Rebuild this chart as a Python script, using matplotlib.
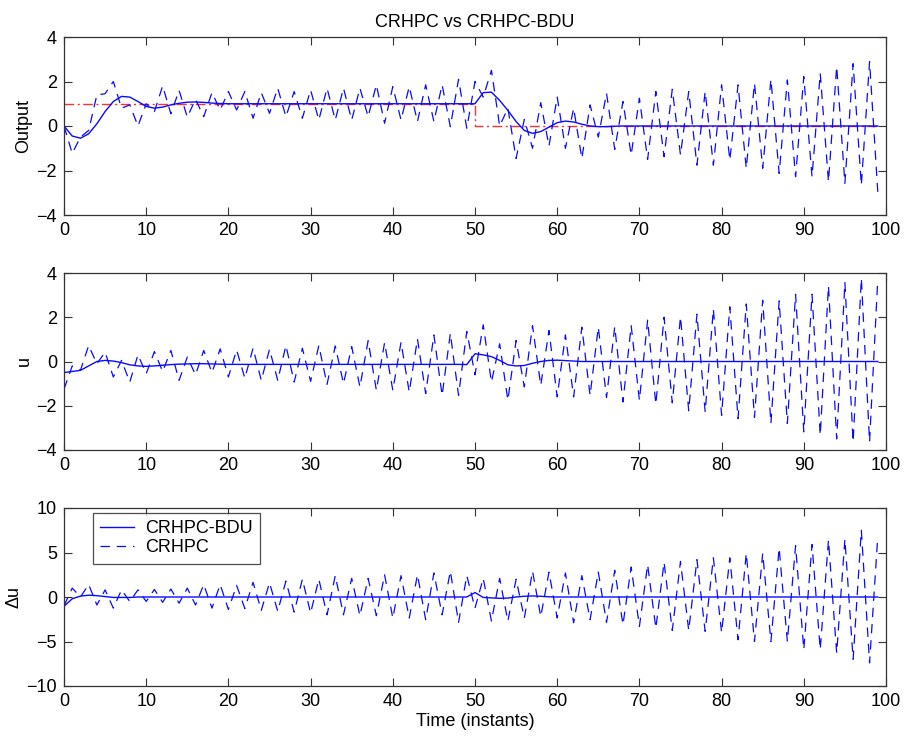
import matplotlib
matplotlib.use("Agg")
import matplotlib.pyplot as plt

plt.rcParams['font.family'] = ['Liberation Sans', 'DejaVu Sans']

instants = list(range(100))

# Reference (set point)
ref_output = [1.0] * 50 + [0.0] * 50

# CRHPC-BDU output (solid)
bdu_output = [0.0, -0.45, -0.55, -0.35, 0.1, 0.65, 1.1, 1.33, 1.3, 1.1,
              0.88, 0.8, 0.85, 0.95, 1.02, 1.07, 1.08, 1.06, 1.03, 1.01,
              1.0, 1.0, 1.0, 1.0, 1.0, 1.0, 1.0, 1.0, 1.0, 1.0,
              1.0, 1.0, 1.0, 1.0, 1.0, 1.0, 1.0, 1.0, 1.0, 1.0,
              1.0, 1.0, 1.0, 1.0, 1.0, 1.0, 1.0, 1.0, 1.0, 1.0,
              1.0, 1.5, 1.52, 1.15, 0.7, 0.2, -0.2, -0.33, -0.25, -0.05,
              0.15, 0.22, 0.18, 0.08, 0.0, -0.03, -0.03, -0.01, 0.0, 0.0,
              0.0, 0.0, 0.0, 0.0, 0.0, 0.0, 0.0, 0.0, 0.0, 0.0,
              0.0, 0.0, 0.0, 0.0, 0.0, 0.0, 0.0, 0.0, 0.0, 0.0,
              0.0, 0.0, 0.0, 0.0, 0.0, 0.0, 0.0, 0.0, 0.0, 0.0]

# CRHPC output (dashed)
crhpc_output = [0.0, -1.23, -0.5, -0.2, 1.4, 1.45, 2.0, 0.8, 0.95, 0.0,
                1.0, 0.65, 1.8, 0.55, 1.6, 0.4, 1.2, 0.42, 1.5, 0.72,
                1.55, 0.72, 1.55, 0.35, 1.5, 0.57, 1.7, 0.42, 1.55, 0.35,
                1.62, 0.27, 1.7, 0.27, 1.7, 0.27, 1.7, 0.42, 1.85, 0.12,
                1.77, 0.27, 1.77, 0.2, 1.85, 0.2, 1.85, -0.03, 2.1, -0.1,
                2.0, 1.3, 2.5, 0.0, 0.8, -1.46, 0.3, -1.0, 1.05, -0.9,
                1.3, -1.0, 0.8, -1.46, 0.95, -0.5, 1.47, -1.05, 1.1, -1.3,
                1.25, -1.5, 1.55, -1.38, 1.65, -1.3, 1.55, -1.76, 1.55, -1.76,
                1.85, -1.53, 1.85, -1.9, 1.92, -1.9, 2.1, -2.13, 2.07, -2.28,
                2.22, -2.28, 2.37, -2.5, 2.68, -2.58, 2.8, -2.66, 2.9, -2.96]

# CRHPC-BDU control u (solid)
bdu_u = [-0.5, -0.45, -0.4, -0.2, 0.0, 0.05, 0.02, -0.05, -0.15, -0.2,
         -0.22, -0.2, -0.17, -0.14, -0.12, -0.11, -0.1, -0.1, -0.11, -0.12,
         -0.13, -0.13, -0.13, -0.13, -0.13, -0.13, -0.13, -0.13, -0.13, -0.13,
         -0.13, -0.13, -0.13, -0.13, -0.13, -0.13, -0.13, -0.13, -0.13, -0.13,
         -0.13, -0.13, -0.13, -0.13, -0.13, -0.13, -0.13, -0.13, -0.13, -0.14,
         0.35, 0.3, 0.22, 0.05, -0.15, -0.2, -0.18, -0.08, 0.0, 0.05,
         0.06, 0.04, 0.02, 0.0, 0.0, 0.0, 0.0, 0.0, 0.0, 0.0,
         0.0, 0.0, 0.0, 0.0, 0.0, 0.0, 0.0, 0.0, 0.0, 0.0,
         0.0, 0.0, 0.0, 0.0, 0.0, 0.0, 0.0, 0.0, 0.0, 0.0,
         0.0, 0.0, 0.0, 0.0, 0.0, 0.0, 0.0, 0.0, 0.0, 0.0]

# CRHPC control u (dashed)
crhpc_u = [-1.25, -0.2, -0.4, 0.72, -0.1, 0.42, -0.7, 0.05, -0.93, 0.3,
           -0.55, 0.45, -0.45, 0.5, -0.85, 0.2, -0.6, 0.5, -0.5, 0.57,
           -0.7, 0.52, -0.75, 0.6, -0.85, 0.55, -0.85, 0.72, -0.93, 0.6,
           -0.9, 0.72, -1.03, 0.7, -1.0, 0.67, -1.15, 0.94, -1.3, 0.85,
           -1.3, 0.87, -1.38, 1.02, -1.45, 1.2, -1.53, 1.27, -1.53, 1.36,
           -0.6, 1.66, -0.93, 0.8, -1.75, 0.95, -1.15, 1.62, -1.08, 1.4,
           -1.6, 1.2, -1.6, 1.55, -1.53, 1.55, -1.63, 1.57, -1.83, 1.62,
           -1.75, 1.87, -1.93, 2.0, -1.87, 2.02, -2.23, 2.14, -2.28, 2.37,
           -2.43, 2.47, -2.58, 2.6, -2.53, 2.77, -2.8, 2.74, -2.8, 3.04,
           -3.18, 3.04, -3.33, 3.42, -3.5, 3.57, -3.63, 3.76, -3.63, 3.72]

# CRHPC-BDU control increment (solid)
bdu_du = [-1.05, -0.2, 0.1, 0.2, 0.15, 0.05, -0.05, -0.05, -0.05, 0.0,
          0.0, 0.0, 0.0, 0.0, 0.0, 0.0, 0.0, 0.0, 0.0, 0.0,
          0.0, 0.0, 0.0, 0.0, 0.0, 0.0, 0.0, 0.0, 0.0, 0.0,
          0.0, 0.0, 0.0, 0.0, 0.0, 0.0, 0.0, 0.0, 0.0, 0.0,
          0.0, 0.0, 0.0, 0.0, 0.0, 0.0, 0.0, 0.0, 0.0, 0.0,
          0.5, -0.05, -0.1, -0.15, -0.12, 0.0, 0.08, 0.12, 0.08, 0.02,
          0.0, 0.0, 0.0, 0.0, 0.0, 0.0, 0.0, 0.0, 0.0, 0.0,
          0.0, 0.0, 0.0, 0.0, 0.0, 0.0, 0.0, 0.0, 0.0, 0.0,
          0.0, 0.0, 0.0, 0.0, 0.0, 0.0, 0.0, 0.0, 0.0, 0.0,
          0.0, 0.0, 0.0, 0.0, 0.0, 0.0, 0.0, 0.0, 0.0, 0.0]

# CRHPC control increment (dashed)
crhpc_du = [-1.0, 1.0, 0.0, 1.4, -0.9, 0.8, -1.25, 0.8, -0.5, 0.8,
            -0.5, 0.85, -0.6, 0.9, -0.7, 1.0, -0.9, 1.4, -1.25, 1.4,
            -1.4, 1.3, -1.3, 1.65, -1.5, 1.6, -1.6, 1.8, -1.7, 2.0,
            -1.8, 2.0, -2.0, 2.4, -2.0, 2.1, -2.1, 2.1, -2.1, 2.5,
            -2.36, 2.4, -2.36, 2.5, -2.55, 2.7, -2.0, 2.9, -2.85, 2.4,
            -1.25, 2.1, -2.7, 2.1, -2.7, 2.0, -2.36, 2.9, -2.2, 2.8,
            -2.36, 2.7, -2.9, 2.4, -2.55, 2.8, -2.85, 3.0, -3.1, 3.37,
            -3.3, 3.63, -3.5, 3.9, -3.75, 4.0, -3.75, 4.2, -3.86, 4.4,
            -4.0, 4.4, -4.8, 4.9, -5.0, 4.9, -5.0, 5.5, -5.0, 5.77,
            -5.9, 5.9, -5.9, 6.4, -6.3, 6.5, -7.0, 7.5, -7.4, 6.8]

xticks = [0, 10, 20, 30, 40, 50, 60, 70, 80, 90, 100]
yticks_out = [-4, -2, 0, 2, 4]
yticks_u = [-4, -2, 0, 2, 4]
yticks_du = [-10, -5, 0, 5, 10]

W, H = 908, 738
fig = plt.figure(figsize=(W / 100, H / 100), dpi=100)

def px_axes(left, top, right, bottom):
    return fig.add_axes([left / W, 1 - bottom / H, (right - left) / W, (bottom - top) / H])

ax1 = px_axes(64, 37, 886, 215)
ax2 = px_axes(64, 273, 886, 450)
ax3 = px_axes(64, 508, 886, 686)

DASH = (7.5, 5.5)
FS = 13
BLUE = '#0a0aff'

def style(ax, yticks, ylabel):
    ax.set_xlim(0, 100)
    ax.set_ylim(yticks[0], yticks[-1])
    ax.set_xticks(xticks)
    ax.set_yticks(yticks)
    ax.tick_params(direction='in', length=5.8, width=0.8, top=True, right=True,
                   labelsize=FS, pad=5, color='#333333')
    for s in ax.spines.values():
        s.set_linewidth(0.9)
        s.set_color('#333333')
    ax.set_ylabel(ylabel, fontsize=FS, labelpad=3)

# Top: Output
ax1.plot(instants, ref_output, color='#ff3030', linewidth=1.0, drawstyle='steps-post',
         dashes=(7, 2.5, 1.5, 2.5))
ax1.plot(instants, bdu_output, color=BLUE, linewidth=1.0)
ax1.plot(instants, crhpc_output, color=BLUE, linewidth=0.9, dashes=DASH)
style(ax1, yticks_out, 'Output')
ax1.set_title('CRHPC vs CRHPC-BDU', fontsize=FS, pad=7)

# Middle: u
ax2.plot(instants, bdu_u, color=BLUE, linewidth=1.0)
ax2.plot(instants, crhpc_u, color=BLUE, linewidth=0.9, dashes=DASH)
style(ax2, yticks_u, 'u')

# Bottom: delta u
l1, = ax3.plot(instants, bdu_du, color=BLUE, linewidth=1.0, label='CRHPC-BDU')
l2, = ax3.plot(instants, crhpc_du, color=BLUE, linewidth=0.9, dashes=DASH, label='CRHPC')
style(ax3, yticks_du, '\u0394u')
ax3.set_xlabel('Time (instants)', fontsize=FS, labelpad=2)

leg = ax3.legend(handles=[l1, l2], loc='upper left', bbox_to_anchor=(0.035, 0.972),
                 borderaxespad=0, fontsize=FS, frameon=True, fancybox=False,
                 handlelength=1.9, handletextpad=0.6, borderpad=0.4,
                 labelspacing=0.12)
leg.get_frame().set_edgecolor('#222222')
leg.get_frame().set_linewidth(0.9)

fig.savefig('out.png', dpi=100)
